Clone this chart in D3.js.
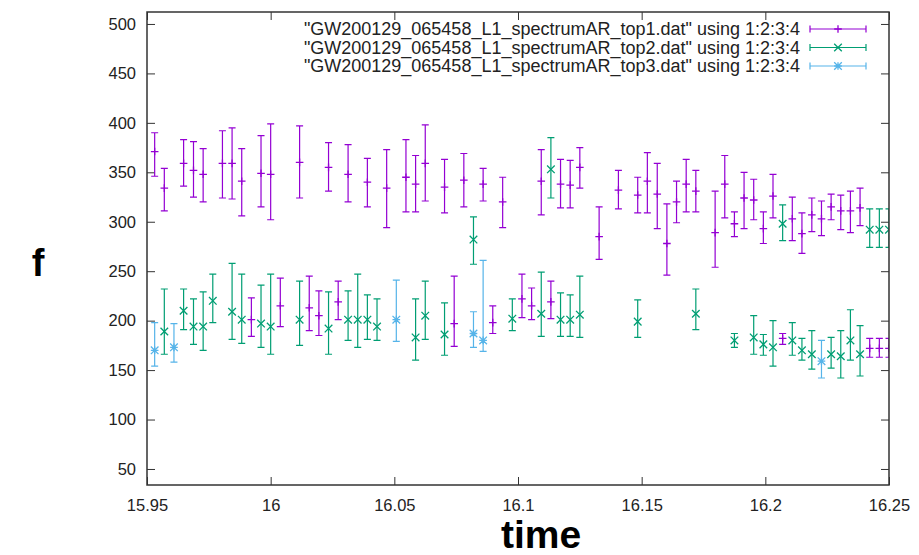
<!DOCTYPE html>
<html>
<head>
<meta charset="utf-8">
<script src="https://cdn.jsdelivr.net/npm/d3@7"></script>
<style>
  body { margin: 0; background: #fff; }
  svg { display: block; }
  text { font-family: "Liberation Sans", Arial, Helvetica, sans-serif; }
</style>
</head>
<body>
<svg id="chart" width="919" height="555"></svg>
<script>
// Axis ticks
const xTicks = [15.95, 16, 16.05, 16.1, 16.15, 16.2, 16.25];
const yTicks = [50, 100, 150, 200, 250, 300, 350, 400, 450, 500];

// Series rows: [time, f, f low, f high]
const top1 = [
  [15.9531, 371, 346, 390], [15.9570, 334, 311, 354], [15.9648, 359, 336, 383],
  [15.9688, 352, 325, 381], [15.9727, 348, 320, 374], [15.9805, 359, 324, 392],
  [15.9844, 359, 323, 395], [15.9883, 341, 306, 374], [15.9922, 201, 184, 223],
  [15.9961, 349, 315, 387], [16.0000, 348, 302, 399], [16.0039, 215, 194, 243],
  [16.0117, 360, 324, 397], [16.0156, 213, 190, 245], [16.0195, 205, 185, 230],
  [16.0234, 355, 331, 380], [16.0273, 219, 201, 240], [16.0313, 348, 320, 378],
  [16.0391, 340, 315, 364], [16.0469, 334, 294, 373], [16.0547, 345, 310, 383],
  [16.0586, 338, 310, 367], [16.0625, 359, 321, 398], [16.0703, 335, 309, 363],
  [16.0742, 197, 174, 245], [16.0781, 342, 315, 369], [16.0859, 338, 321, 354],
  [16.0898, 198, 187, 215], [16.0938, 320, 294, 345], [16.1016, 222, 203, 247],
  [16.1055, 215, 201, 233], [16.1094, 341, 307, 373], [16.1133, 219, 202, 240],
  [16.1172, 338, 314, 363], [16.1211, 337, 314, 362], [16.1250, 355, 334, 375],
  [16.1328, 285, 262, 315], [16.1406, 332, 313, 352], [16.1484, 327, 309, 345],
  [16.1523, 341, 309, 370], [16.1563, 328, 293, 359], [16.1602, 278, 246, 318],
  [16.1641, 320, 299, 341], [16.1680, 338, 310, 363], [16.1719, 331, 310, 352],
  [16.1797, 289, 254, 331], [16.1836, 338, 304, 367], [16.1875, 298, 285, 310],
  [16.1914, 324, 293, 350], [16.1953, 322, 302, 343], [16.1992, 293, 278, 310],
  [16.2031, 326, 304, 348], [16.2070, 182, 176, 187], [16.2109, 303, 281, 325],
  [16.2148, 288, 268, 309], [16.2188, 307, 290, 324], [16.2227, 303, 286, 321],
  [16.2266, 315, 302, 328], [16.2305, 311, 292, 327], [16.2344, 311, 289, 331],
  [16.2383, 314, 296, 334], [16.2422, 172, 163, 182], [16.2461, 172, 163, 182],
  [16.2500, 172, 163, 182]
];

const top2 = [
  [15.9570, 189, 166, 232], [15.9648, 210, 191, 232], [15.9688, 194, 176, 222],
  [15.9727, 194, 170, 229], [15.9766, 220, 198, 247], [15.9844, 209, 181, 258],
  [15.9883, 201, 177, 247], [15.9961, 197, 173, 236], [16.0000, 194, 166, 247],
  [16.0117, 201, 175, 240], [16.0234, 192, 166, 229], [16.0313, 201, 180, 230],
  [16.0352, 201, 173, 247], [16.0391, 201, 181, 226], [16.0430, 194, 180, 222],
  [16.0586, 183, 160, 222], [16.0625, 205, 181, 240], [16.0703, 186, 165, 218],
  [16.0820, 282, 257, 305], [16.0977, 202, 190, 222], [16.1094, 207, 184, 249],
  [16.1133, 353, 324, 385], [16.1172, 201, 184, 228], [16.1211, 201, 184, 226],
  [16.1250, 206, 183, 245], [16.1484, 199, 183, 221], [16.1719, 207, 191, 232],
  [16.1875, 180, 173, 187], [16.1953, 183, 166, 205], [16.1992, 176, 165, 186],
  [16.2031, 173, 154, 200], [16.2070, 298, 281, 317], [16.2109, 180, 165, 198],
  [16.2148, 170, 160, 182], [16.2188, 166, 151, 190], [16.2266, 166, 152, 183],
  [16.2305, 164, 142, 190], [16.2344, 180, 160, 211], [16.2383, 166, 144, 195],
  [16.2422, 292, 274, 313], [16.2461, 292, 274, 313], [16.2500, 292, 274, 313]
];

const top3 = [
  [15.9531, 170, 154, 198], [15.9609, 173, 158, 197], [16.0508, 201, 179, 241],
  [16.0820, 187, 173, 209], [16.0859, 180, 169, 261], [16.2227, 159, 142, 180]
];

const seriesNames = [
  '"GW200129_065458_L1_spectrumAR_top1.dat" using 1:2:3:4',
  '"GW200129_065458_L1_spectrumAR_top2.dat" using 1:2:3:4',
  '"GW200129_065458_L1_spectrumAR_top3.dat" using 1:2:3:4'
];

const series = [
  { name: seriesNames[0], rows: top1, color: "#9400d3", marker: "plus" },
  { name: seriesNames[1], rows: top2, color: "#009e73", marker: "cross" },
  { name: seriesNames[2], rows: top3, color: "#56b4e9", marker: "star" }
];

const svg = d3.select("#chart");
const plot = { left: 147, right: 889, top: 12, bottom: 485 };

const x = d3.scaleLinear().domain([15.95, 16.25]).range([plot.left, plot.right]);
const y = d3.scaleLinear().domain([33.8, 512.1]).range([plot.bottom, plot.top]);

const axisColor = "#333";
const fontSize = 16.5;
const legendFont = 18;
const tickLen = 8;
const cap = 3.5;
const ms = 3.8;

svg.append("defs").append("clipPath").attr("id", "plotClip")
  .append("rect")
  .attr("x", plot.left).attr("y", plot.top)
  .attr("width", plot.right - plot.left).attr("height", plot.bottom - plot.top);

// Axes with inward ticks, mirrored on the opposite sides
const axisB = d3.axisBottom(x).tickValues(xTicks).tickSizeInner(-tickLen).tickSizeOuter(0)
  .tickPadding(14).tickFormat(d3.format("~g"));
const axisT = d3.axisTop(x).tickValues(xTicks).tickSizeInner(-tickLen).tickSizeOuter(0)
  .tickFormat("");
const axisL = d3.axisLeft(y).tickValues(yTicks).tickSizeInner(-tickLen).tickSizeOuter(0)
  .tickPadding(11);
const axisR = d3.axisRight(y).tickValues(yTicks).tickSizeInner(-tickLen).tickSizeOuter(0)
  .tickFormat("");

function styleAxis(g) {
  g.select(".domain").remove();
  g.selectAll(".tick line").attr("stroke", axisColor).attr("stroke-width", 1);
  g.selectAll(".tick text").attr("fill", "#222").style("font-size", fontSize + "px")
    .style("font-family", '"Liberation Sans", Arial, sans-serif');
}

svg.append("g").attr("transform", `translate(0,${plot.bottom})`).call(axisB).call(styleAxis);
svg.append("g").attr("transform", `translate(0,${plot.top})`).call(axisT).call(styleAxis);
svg.append("g").attr("transform", `translate(${plot.left},0)`).call(axisL).call(styleAxis);
svg.append("g").attr("transform", `translate(${plot.right},0)`).call(axisR).call(styleAxis);

// Legend
const legend = svg.append("g");
const legendRows = [29, 47.5, 66];
const sampleX0 = 810, sampleX1 = 866;

function drawMarker(g, cx, cy, kind, color) {
  const p = d3.path();
  if (kind === "plus" || kind === "star") {
    p.moveTo(cx - ms, cy); p.lineTo(cx + ms, cy);
    p.moveTo(cx, cy - ms); p.lineTo(cx, cy + ms);
  }
  if (kind === "cross" || kind === "star") {
    p.moveTo(cx - ms, cy - ms); p.lineTo(cx + ms, cy + ms);
    p.moveTo(cx - ms, cy + ms); p.lineTo(cx + ms, cy - ms);
  }
  g.append("path").attr("d", p.toString()).attr("stroke", color)
    .attr("stroke-width", 1.3).attr("fill", "none");
}

series.forEach((s, i) => {
  const ly = legendRows[i];
  legend.append("text")
    .attr("x", 800).attr("y", ly).attr("dy", "0.35em")
    .attr("text-anchor", "end").attr("fill", "#222")
    .style("font-size", legendFont + "px")
    .text(s.name);
  const p = d3.path();
  p.moveTo(sampleX0, ly); p.lineTo(sampleX1, ly);
  p.moveTo(sampleX0, ly - cap); p.lineTo(sampleX0, ly + cap);
  p.moveTo(sampleX1, ly - cap); p.lineTo(sampleX1, ly + cap);
  legend.append("path").attr("d", p.toString()).attr("stroke", s.color)
    .attr("stroke-width", 1.2).attr("fill", "none");
  drawMarker(legend, (sampleX0 + sampleX1) / 2, ly, s.marker, s.color);
});

// Error bars
const marks = svg.append("g").attr("clip-path", "url(#plotClip)");
series.forEach(s => {
  const g = marks.append("g");
  s.rows.forEach(([t, f, lo, hi]) => {
    const cx = x(t), cy = y(f), yl = y(lo), yh = y(hi);
    const p = d3.path();
    p.moveTo(cx, yh); p.lineTo(cx, yl);
    p.moveTo(cx - cap, yh); p.lineTo(cx + cap, yh);
    p.moveTo(cx - cap, yl); p.lineTo(cx + cap, yl);
    g.append("path").attr("d", p.toString()).attr("stroke", s.color)
      .attr("stroke-width", 1.2).attr("fill", "none");
    drawMarker(g, cx, cy, s.marker, s.color);
  });
});

// Plot border
svg.append("rect")
  .attr("x", plot.left).attr("y", plot.top)
  .attr("width", plot.right - plot.left).attr("height", plot.bottom - plot.top)
  .attr("fill", "none").attr("stroke", axisColor).attr("stroke-width", 1.5);

// Axis titles
svg.append("text").attr("x", 38).attr("y", 276).attr("text-anchor", "middle")
  .style("font-size", "38px").style("font-weight", "bold").attr("fill", "#000").text("f");
svg.append("text").attr("x", 541).attr("y", 548).attr("text-anchor", "middle")
  .style("font-size", "39px").style("font-weight", "bold").attr("fill", "#000").text("time");
</script>
</body>
</html>
